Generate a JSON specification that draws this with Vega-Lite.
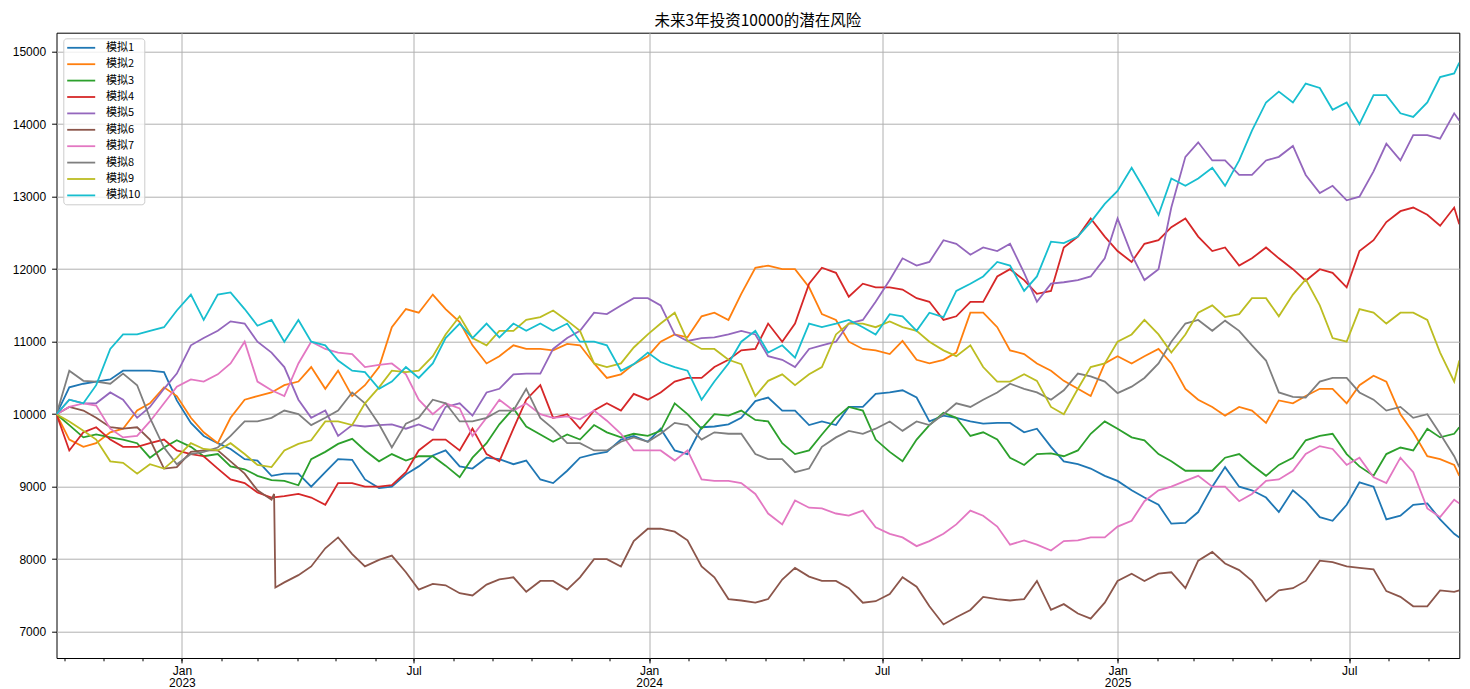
{
  "$schema": "https://vega.github.io/schema/vega-lite/v6.json",
  "width": 1402.8,
  "height": 625.3,
  "autosize": {"type": "none"},
  "padding": {"left": 56.5, "top": 32.7, "right": 10.7, "bottom": 31},
  "background": "#ffffff",
  "title": {"text": "未来3年投资10000的潜在风险", "font": "Noto Sans CJK SC", "fontSize": 15.5, "fontWeight": "normal", "color": "#000000", "offset": 3, "anchor": "middle"},
  "config": {
    "view": {"stroke": "#000000", "strokeWidth": 1},
    "axis": {"domain": false}
  },
  "data": {"values": [
    {"date": "2022/09/25", "s1": 10000, "s2": 10000, "s3": 10000, "s4": 10000, "s5": 10000, "s6": 10000, "s7": 10000, "s8": 10000, "s9": 10000, "s10": 10000},
    {"date": "2022/10/05", "s1": 10370, "s2": 9650, "s3": 9850, "s4": 9500, "s5": 10200, "s6": 10100, "s7": 10100, "s8": 10600, "s9": 9900, "s10": 10200},
    {"date": "2022/10/16", "s1": 10420, "s2": 9550, "s3": 9680, "s4": 9750, "s5": 10150, "s6": 10050, "s7": 10150, "s8": 10460, "s9": 9770, "s10": 10150},
    {"date": "2022/10/26", "s1": 10450, "s2": 9600, "s3": 9720, "s4": 9820, "s5": 10150, "s6": 9950, "s7": 10120, "s8": 10450, "s9": 9650, "s10": 10400},
    {"date": "2022/11/06", "s1": 10480, "s2": 9750, "s3": 9680, "s4": 9650, "s5": 10300, "s6": 9820, "s7": 9800, "s8": 10420, "s9": 9350, "s10": 10900},
    {"date": "2022/11/16", "s1": 10600, "s2": 9800, "s3": 9650, "s4": 9550, "s5": 10200, "s6": 9800, "s7": 9680, "s8": 10560, "s9": 9330, "s10": 11100},
    {"date": "2022/11/27", "s1": 10600, "s2": 10050, "s3": 9600, "s4": 9550, "s5": 9950, "s6": 9820, "s7": 9700, "s8": 10400, "s9": 9180, "s10": 11100},
    {"date": "2022/12/07", "s1": 10600, "s2": 10150, "s3": 9400, "s4": 9600, "s5": 10100, "s6": 9650, "s7": 9900, "s8": 9950, "s9": 9310, "s10": 11150},
    {"date": "2022/12/18", "s1": 10580, "s2": 10370, "s3": 9540, "s4": 9650, "s5": 10350, "s6": 9250, "s7": 10150, "s8": 9540, "s9": 9250, "s10": 11200},
    {"date": "2022/12/28", "s1": 10190, "s2": 10250, "s3": 9640, "s4": 9500, "s5": 10560, "s6": 9270, "s7": 10380, "s8": 9310, "s9": 9400, "s10": 11430},
    {"date": "2023/01/08", "s1": 9880, "s2": 9950, "s3": 9550, "s4": 9450, "s5": 10950, "s6": 9480, "s7": 10480, "s8": 9450, "s9": 9600, "s10": 11650},
    {"date": "2023/01/18", "s1": 9700, "s2": 9750, "s3": 9420, "s4": 9420, "s5": 11050, "s6": 9500, "s7": 10450, "s8": 9480, "s9": 9520, "s10": 11300},
    {"date": "2023/01/29", "s1": 9600, "s2": 9600, "s3": 9450, "s4": 9250, "s5": 11150, "s6": 9500, "s7": 10550, "s8": 9540, "s9": 9500, "s10": 11650},
    {"date": "2023/02/08", "s1": 9520, "s2": 9950, "s3": 9280, "s4": 9100, "s5": 11280, "s6": 9350, "s7": 10700, "s8": 9700, "s9": 9600, "s10": 11680},
    {"date": "2023/02/19", "s1": 9380, "s2": 10200, "s3": 9240, "s4": 9050, "s5": 11250, "s6": 9180, "s7": 11000, "s8": 9900, "s9": 9450, "s10": 11450},
    {"date": "2023/03/01", "s1": 9360, "s2": 10250, "s3": 9150, "s4": 8920, "s5": 11000, "s6": 8950, "s7": 10450, "s8": 9900, "s9": 9300, "s10": 11220},
    {"date": "2023/03/12", "s1": 9150, "s2": 10300, "s3": 9090, "s4": 8850, "s5": 10850, "s6": 8820, "s7": 10330, "s8": 9950, "s9": 9270, "s10": 11300},
    {"date": "2023/03/14", "s6": 8900},
    {"date": "2023/03/15", "s6": 7610},
    {"date": "2023/03/22", "s1": 9180, "s2": 10400, "s3": 9080, "s4": 8870, "s5": 10650, "s6": 7680, "s7": 10250, "s8": 10050, "s9": 9500, "s10": 11000},
    {"date": "2023/04/02", "s1": 9180, "s2": 10450, "s3": 9020, "s4": 8900, "s5": 10200, "s6": 7780, "s7": 10700, "s8": 10000, "s9": 9590, "s10": 11300},
    {"date": "2023/04/12", "s1": 9000, "s2": 10650, "s3": 9380, "s4": 8850, "s5": 9950, "s6": 7900, "s7": 11000, "s8": 9850, "s9": 9640, "s10": 11000},
    {"date": "2023/04/23", "s1": 9200, "s2": 10350, "s3": 9480, "s4": 8750, "s5": 10050, "s6": 8150, "s7": 10900, "s8": 9950, "s9": 9900, "s10": 10950},
    {"date": "2023/05/03", "s1": 9380, "s2": 10600, "s3": 9590, "s4": 9050, "s5": 9700, "s6": 8300, "s7": 10850, "s8": 10050, "s9": 9900, "s10": 10740},
    {"date": "2023/05/14", "s1": 9370, "s2": 10250, "s3": 9660, "s4": 9050, "s5": 9850, "s6": 8070, "s7": 10830, "s8": 10300, "s9": 9850, "s10": 10600},
    {"date": "2023/05/24", "s1": 9100, "s2": 10400, "s3": 9500, "s4": 9000, "s5": 9830, "s6": 7900, "s7": 10650, "s8": 10150, "s9": 10150, "s10": 10580},
    {"date": "2023/06/04", "s1": 8980, "s2": 10650, "s3": 9350, "s4": 9000, "s5": 9850, "s6": 7990, "s7": 10680, "s8": 9860, "s9": 10370, "s10": 10350},
    {"date": "2023/06/14", "s1": 9000, "s2": 11200, "s3": 9450, "s4": 9020, "s5": 9860, "s6": 8050, "s7": 10700, "s8": 9540, "s9": 10600, "s10": 10450},
    {"date": "2023/06/25", "s1": 9170, "s2": 11450, "s3": 9360, "s4": 9200, "s5": 9800, "s6": 7820, "s7": 10550, "s8": 9870, "s9": 10580, "s10": 10650},
    {"date": "2023/07/05", "s1": 9280, "s2": 11400, "s3": 9420, "s4": 9500, "s5": 9860, "s6": 7580, "s7": 10200, "s8": 9950, "s9": 10600, "s10": 10500},
    {"date": "2023/07/16", "s1": 9430, "s2": 11650, "s3": 9420, "s4": 9650, "s5": 9780, "s6": 7660, "s7": 10000, "s8": 10200, "s9": 10800, "s10": 10700},
    {"date": "2023/07/26", "s1": 9500, "s2": 11450, "s3": 9290, "s4": 9650, "s5": 10100, "s6": 7640, "s7": 10150, "s8": 10150, "s9": 11100, "s10": 11050},
    {"date": "2023/08/06", "s1": 9280, "s2": 11270, "s3": 9130, "s4": 9500, "s5": 10150, "s6": 7530, "s7": 10080, "s8": 9900, "s9": 11350, "s10": 11250},
    {"date": "2023/08/16", "s1": 9250, "s2": 10950, "s3": 9400, "s4": 9800, "s5": 9980, "s6": 7500, "s7": 9700, "s8": 9900, "s9": 11050, "s10": 11050},
    {"date": "2023/08/27", "s1": 9400, "s2": 10700, "s3": 9600, "s4": 9450, "s5": 10300, "s6": 7650, "s7": 9950, "s8": 9950, "s9": 10950, "s10": 11250},
    {"date": "2023/09/06", "s1": 9380, "s2": 10800, "s3": 9860, "s4": 9350, "s5": 10350, "s6": 7720, "s7": 10200, "s8": 10050, "s9": 11150, "s10": 11060},
    {"date": "2023/09/17", "s1": 9310, "s2": 10950, "s3": 10080, "s4": 9800, "s5": 10550, "s6": 7750, "s7": 10050, "s8": 10050, "s9": 11150, "s10": 11250},
    {"date": "2023/09/27", "s1": 9360, "s2": 10900, "s3": 9830, "s4": 10200, "s5": 10560, "s6": 7550, "s7": 10150, "s8": 10350, "s9": 11300, "s10": 11150},
    {"date": "2023/10/08", "s1": 9100, "s2": 10900, "s3": 9720, "s4": 10400, "s5": 10560, "s6": 7700, "s7": 10000, "s8": 9950, "s9": 11340, "s10": 11250},
    {"date": "2023/10/18", "s1": 9050, "s2": 10880, "s3": 9620, "s4": 9950, "s5": 10900, "s6": 7700, "s7": 9950, "s8": 9800, "s9": 11430, "s10": 11150},
    {"date": "2023/10/29", "s1": 9220, "s2": 10970, "s3": 9720, "s4": 10000, "s5": 11050, "s6": 7580, "s7": 9970, "s8": 9600, "s9": 11290, "s10": 11250},
    {"date": "2023/11/08", "s1": 9400, "s2": 10950, "s3": 9650, "s4": 9800, "s5": 11150, "s6": 7750, "s7": 9930, "s8": 9600, "s9": 11150, "s10": 11000},
    {"date": "2023/11/19", "s1": 9450, "s2": 10700, "s3": 9850, "s4": 10050, "s5": 11400, "s6": 8000, "s7": 10050, "s8": 9500, "s9": 10700, "s10": 11000},
    {"date": "2023/11/29", "s1": 9480, "s2": 10500, "s3": 9750, "s4": 10150, "s5": 11380, "s6": 8000, "s7": 9910, "s8": 9500, "s9": 10650, "s10": 10950},
    {"date": "2023/12/10", "s1": 9650, "s2": 10550, "s3": 9680, "s4": 10050, "s5": 11500, "s6": 7900, "s7": 9730, "s8": 9620, "s9": 10700, "s10": 10600},
    {"date": "2023/12/20", "s1": 9700, "s2": 10690, "s3": 9730, "s4": 10280, "s5": 11600, "s6": 8250, "s7": 9500, "s8": 9680, "s9": 10920, "s10": 10690},
    {"date": "2023/12/31", "s1": 9620, "s2": 10800, "s3": 9700, "s4": 10200, "s5": 11600, "s6": 8420, "s7": 9500, "s8": 9620, "s9": 11100, "s10": 10850},
    {"date": "2024/01/10", "s1": 9800, "s2": 11000, "s3": 9770, "s4": 10300, "s5": 11500, "s6": 8420, "s7": 9500, "s8": 9730, "s9": 11250, "s10": 10720},
    {"date": "2024/01/21", "s1": 9500, "s2": 11100, "s3": 10150, "s4": 10450, "s5": 11100, "s6": 8380, "s7": 9360, "s8": 9880, "s9": 11400, "s10": 10650},
    {"date": "2024/01/31", "s1": 9450, "s2": 11060, "s3": 10000, "s4": 10500, "s5": 11010, "s6": 8260, "s7": 9500, "s8": 9850, "s9": 11010, "s10": 10600},
    {"date": "2024/02/11", "s1": 9820, "s2": 11350, "s3": 9800, "s4": 10500, "s5": 11050, "s6": 7900, "s7": 9100, "s8": 9650, "s9": 10900, "s10": 10200},
    {"date": "2024/02/21", "s1": 9830, "s2": 11400, "s3": 10000, "s4": 10650, "s5": 11060, "s6": 7750, "s7": 9080, "s8": 9750, "s9": 10900, "s10": 10450},
    {"date": "2024/03/03", "s1": 9860, "s2": 11300, "s3": 9980, "s4": 10750, "s5": 11100, "s6": 7450, "s7": 9080, "s8": 9730, "s9": 10750, "s10": 10700},
    {"date": "2024/03/13", "s1": 9950, "s2": 11660, "s3": 10050, "s4": 10880, "s5": 11150, "s6": 7430, "s7": 9050, "s8": 9730, "s9": 10690, "s10": 11000},
    {"date": "2024/03/24", "s1": 10180, "s2": 12020, "s3": 9920, "s4": 10900, "s5": 11100, "s6": 7400, "s7": 8900, "s8": 9450, "s9": 10250, "s10": 11150},
    {"date": "2024/04/03", "s1": 10230, "s2": 12050, "s3": 9900, "s4": 11250, "s5": 10800, "s6": 7450, "s7": 8630, "s8": 9380, "s9": 10460, "s10": 10850},
    {"date": "2024/04/14", "s1": 10050, "s2": 12000, "s3": 9600, "s4": 11000, "s5": 10750, "s6": 7720, "s7": 8480, "s8": 9380, "s9": 10550, "s10": 10950},
    {"date": "2024/04/24", "s1": 10050, "s2": 12000, "s3": 9450, "s4": 11250, "s5": 10650, "s6": 7880, "s7": 8810, "s8": 9200, "s9": 10400, "s10": 10780},
    {"date": "2024/05/05", "s1": 9850, "s2": 11750, "s3": 9500, "s4": 11800, "s5": 10900, "s6": 7760, "s7": 8710, "s8": 9250, "s9": 10550, "s10": 11250},
    {"date": "2024/05/15", "s1": 9900, "s2": 11380, "s3": 9720, "s4": 12020, "s5": 10950, "s6": 7700, "s7": 8700, "s8": 9550, "s9": 10650, "s10": 11200},
    {"date": "2024/05/26", "s1": 9850, "s2": 11300, "s3": 9950, "s4": 11950, "s5": 11000, "s6": 7700, "s7": 8630, "s8": 9680, "s9": 11100, "s10": 11250},
    {"date": "2024/06/05", "s1": 10100, "s2": 11000, "s3": 10100, "s4": 11620, "s5": 11250, "s6": 7600, "s7": 8600, "s8": 9770, "s9": 11250, "s10": 11300},
    {"date": "2024/06/16", "s1": 10100, "s2": 10900, "s3": 10050, "s4": 11800, "s5": 11300, "s6": 7400, "s7": 8670, "s8": 9730, "s9": 11250, "s10": 11200},
    {"date": "2024/06/26", "s1": 10280, "s2": 10880, "s3": 9650, "s4": 11750, "s5": 11550, "s6": 7420, "s7": 8440, "s8": 9800, "s9": 11200, "s10": 11100},
    {"date": "2024/07/07", "s1": 10300, "s2": 10830, "s3": 9480, "s4": 11750, "s5": 11850, "s6": 7520, "s7": 8350, "s8": 9900, "s9": 11280, "s10": 11380},
    {"date": "2024/07/17", "s1": 10330, "s2": 11010, "s3": 9350, "s4": 11720, "s5": 12150, "s6": 7750, "s7": 8300, "s8": 9770, "s9": 11200, "s10": 11350},
    {"date": "2024/07/28", "s1": 10230, "s2": 10750, "s3": 9650, "s4": 11600, "s5": 12050, "s6": 7620, "s7": 8180, "s8": 9900, "s9": 11150, "s10": 11150},
    {"date": "2024/08/07", "s1": 9900, "s2": 10700, "s3": 9850, "s4": 11550, "s5": 12100, "s6": 7350, "s7": 8250, "s8": 9850, "s9": 11000, "s10": 11400},
    {"date": "2024/08/18", "s1": 9980, "s2": 10750, "s3": 10020, "s4": 11300, "s5": 12400, "s6": 7100, "s7": 8350, "s8": 10000, "s9": 10880, "s10": 11340},
    {"date": "2024/08/28", "s1": 9950, "s2": 10850, "s3": 9950, "s4": 11350, "s5": 12350, "s6": 7200, "s7": 8480, "s8": 10150, "s9": 10800, "s10": 11700},
    {"date": "2024/09/08", "s1": 9900, "s2": 11400, "s3": 9700, "s4": 11550, "s5": 12200, "s6": 7300, "s7": 8670, "s8": 10100, "s9": 10950, "s10": 11800},
    {"date": "2024/09/18", "s1": 9870, "s2": 11400, "s3": 9750, "s4": 11550, "s5": 12300, "s6": 7480, "s7": 8600, "s8": 10200, "s9": 10650, "s10": 11900},
    {"date": "2024/09/29", "s1": 9880, "s2": 11200, "s3": 9650, "s4": 11900, "s5": 12250, "s6": 7450, "s7": 8450, "s8": 10300, "s9": 10450, "s10": 12100},
    {"date": "2024/10/09", "s1": 9880, "s2": 10880, "s3": 9400, "s4": 12000, "s5": 12350, "s6": 7430, "s7": 8200, "s8": 10420, "s9": 10450, "s10": 12050},
    {"date": "2024/10/20", "s1": 9750, "s2": 10830, "s3": 9300, "s4": 11850, "s5": 11950, "s6": 7450, "s7": 8260, "s8": 10350, "s9": 10550, "s10": 11700},
    {"date": "2024/10/30", "s1": 9800, "s2": 10700, "s3": 9450, "s4": 11660, "s5": 11550, "s6": 7700, "s7": 8200, "s8": 10300, "s9": 10460, "s10": 11900},
    {"date": "2024/11/10", "s1": 9550, "s2": 10600, "s3": 9460, "s4": 11700, "s5": 11800, "s6": 7300, "s7": 8120, "s8": 10200, "s9": 10100, "s10": 12380},
    {"date": "2024/11/20", "s1": 9350, "s2": 10460, "s3": 9420, "s4": 12300, "s5": 11820, "s6": 7380, "s7": 8250, "s8": 10330, "s9": 10000, "s10": 12360},
    {"date": "2024/12/01", "s1": 9310, "s2": 10350, "s3": 9500, "s4": 12450, "s5": 11850, "s6": 7250, "s7": 8260, "s8": 10560, "s9": 10350, "s10": 12450},
    {"date": "2024/12/11", "s1": 9250, "s2": 10250, "s3": 9730, "s4": 12700, "s5": 11900, "s6": 7180, "s7": 8300, "s8": 10520, "s9": 10650, "s10": 12650},
    {"date": "2024/12/22", "s1": 9150, "s2": 10700, "s3": 9900, "s4": 12450, "s5": 12150, "s6": 7400, "s7": 8300, "s8": 10450, "s9": 10700, "s10": 12900},
    {"date": "2025/01/01", "s1": 9080, "s2": 10800, "s3": 9800, "s4": 12250, "s5": 12700, "s6": 7700, "s7": 8450, "s8": 10290, "s9": 11000, "s10": 13080},
    {"date": "2025/01/12", "s1": 8950, "s2": 10700, "s3": 9680, "s4": 12100, "s5": 12200, "s6": 7800, "s7": 8530, "s8": 10380, "s9": 11100, "s10": 13400},
    {"date": "2025/01/22", "s1": 8850, "s2": 10800, "s3": 9640, "s4": 12350, "s5": 11850, "s6": 7700, "s7": 8800, "s8": 10500, "s9": 11300, "s10": 13100},
    {"date": "2025/02/02", "s1": 8750, "s2": 10900, "s3": 9450, "s4": 12400, "s5": 12000, "s6": 7800, "s7": 8950, "s8": 10700, "s9": 11100, "s10": 12750},
    {"date": "2025/02/12", "s1": 8490, "s2": 10700, "s3": 9350, "s4": 12580, "s5": 12850, "s6": 7820, "s7": 9000, "s8": 11000, "s9": 10850, "s10": 13250},
    {"date": "2025/02/23", "s1": 8500, "s2": 10350, "s3": 9220, "s4": 12700, "s5": 13550, "s6": 7600, "s7": 9080, "s8": 11250, "s9": 11100, "s10": 13150},
    {"date": "2025/03/05", "s1": 8650, "s2": 10200, "s3": 9220, "s4": 12450, "s5": 13750, "s6": 7980, "s7": 9150, "s8": 11300, "s9": 11400, "s10": 13250},
    {"date": "2025/03/16", "s1": 9000, "s2": 10100, "s3": 9220, "s4": 12250, "s5": 13500, "s6": 8100, "s7": 9000, "s8": 11150, "s9": 11500, "s10": 13400},
    {"date": "2025/03/26", "s1": 9270, "s2": 9980, "s3": 9400, "s4": 12300, "s5": 13500, "s6": 7940, "s7": 9000, "s8": 11290, "s9": 11340, "s10": 13150},
    {"date": "2025/04/06", "s1": 9000, "s2": 10100, "s3": 9450, "s4": 12050, "s5": 13300, "s6": 7850, "s7": 8800, "s8": 11150, "s9": 11380, "s10": 13500},
    {"date": "2025/04/16", "s1": 8950, "s2": 10050, "s3": 9300, "s4": 12150, "s5": 13300, "s6": 7700, "s7": 8900, "s8": 10950, "s9": 11600, "s10": 13910},
    {"date": "2025/04/27", "s1": 8850, "s2": 9880, "s3": 9150, "s4": 12300, "s5": 13500, "s6": 7420, "s7": 9080, "s8": 10740, "s9": 11600, "s10": 14300},
    {"date": "2025/05/07", "s1": 8650, "s2": 10190, "s3": 9300, "s4": 12150, "s5": 13550, "s6": 7570, "s7": 9100, "s8": 10300, "s9": 11350, "s10": 14450},
    {"date": "2025/05/18", "s1": 8950, "s2": 10150, "s3": 9400, "s4": 12000, "s5": 13700, "s6": 7600, "s7": 9220, "s8": 10240, "s9": 11650, "s10": 14300},
    {"date": "2025/05/28", "s1": 8800, "s2": 10250, "s3": 9640, "s4": 11840, "s5": 13300, "s6": 7700, "s7": 9450, "s8": 10230, "s9": 11860, "s10": 14560},
    {"date": "2025/06/08", "s1": 8580, "s2": 10350, "s3": 9700, "s4": 12000, "s5": 13050, "s6": 7980, "s7": 9560, "s8": 10450, "s9": 11500, "s10": 14500},
    {"date": "2025/06/18", "s1": 8530, "s2": 10350, "s3": 9730, "s4": 11950, "s5": 13150, "s6": 7960, "s7": 9520, "s8": 10500, "s9": 11050, "s10": 14200},
    {"date": "2025/06/29", "s1": 8750, "s2": 10150, "s3": 9450, "s4": 11750, "s5": 12950, "s6": 7900, "s7": 9300, "s8": 10500, "s9": 11000, "s10": 14300},
    {"date": "2025/07/09", "s1": 9060, "s2": 10400, "s3": 9280, "s4": 12250, "s5": 13000, "s6": 7880, "s7": 9400, "s8": 10300, "s9": 11450, "s10": 14000},
    {"date": "2025/07/20", "s1": 9000, "s2": 10530, "s3": 9150, "s4": 12400, "s5": 13350, "s6": 7860, "s7": 9130, "s8": 10200, "s9": 11400, "s10": 14400},
    {"date": "2025/07/30", "s1": 8550, "s2": 10450, "s3": 9450, "s4": 12650, "s5": 13730, "s6": 7560, "s7": 9050, "s8": 10050, "s9": 11250, "s10": 14400},
    {"date": "2025/08/10", "s1": 8600, "s2": 10000, "s3": 9540, "s4": 12800, "s5": 13500, "s6": 7480, "s7": 9400, "s8": 10100, "s9": 11400, "s10": 14150},
    {"date": "2025/08/20", "s1": 8750, "s2": 9750, "s3": 9500, "s4": 12850, "s5": 13850, "s6": 7350, "s7": 9200, "s8": 9950, "s9": 11400, "s10": 14100},
    {"date": "2025/08/31", "s1": 8770, "s2": 9420, "s3": 9800, "s4": 12750, "s5": 13850, "s6": 7350, "s7": 8700, "s8": 10000, "s9": 11300, "s10": 14300},
    {"date": "2025/09/10", "s1": 8550, "s2": 9380, "s3": 9680, "s4": 12600, "s5": 13800, "s6": 7570, "s7": 8580, "s8": 9730, "s9": 10850, "s10": 14650},
    {"date": "2025/09/21", "s1": 8350, "s2": 9300, "s3": 9730, "s4": 12850, "s5": 14150, "s6": 7550, "s7": 8820, "s8": 9420, "s9": 10450, "s10": 14700},
    {"date": "2025/09/25", "s1": 8300, "s2": 9150, "s3": 9820, "s4": 12620, "s5": 14050, "s6": 7570, "s7": 8770, "s8": 9270, "s9": 10740, "s10": 14850}
  ]},
  "transform": [
    {"fold": ["s1", "s2", "s3", "s4", "s5", "s6", "s7", "s8", "s9", "s10"], "as": ["series", "value"]},
    {"filter": "isValid(datum.value)"}
  ],
  "resolve": {"axis": {"x": "independent", "y": "independent"}},
  "layer": [
    {
      "mark": {"type": "line", "strokeWidth": 1.8, "clip": true},
      "encoding": {
        "x": {"field": "date", "type": "temporal",
          "scale": {"domain": [{"year": 2022, "month": 9, "date": 25}, {"year": 2025, "month": 9, "date": 25}], "nice": false},
          "axis": {"title": null, "orient": "bottom",
            "values": [{"year": 2023, "month": 1, "date": 1}, {"year": 2023, "month": 7, "date": 1}, {"year": 2024, "month": 1, "date": 1}, {"year": 2024, "month": 7, "date": 1}, {"year": 2025, "month": 1, "date": 1}, {"year": 2025, "month": 7, "date": 1}],
            "labelExpr": "month(datum.value) == 0 ? ['Jan', timeFormat(datum.value, '%Y')] : 'Jul'",
            "labelFont": "Liberation Sans", "labelFontSize": 12, "labelColor": "#000000", "labelLineHeight": 12.5,
            "labelPadding": 2.5, "labelOverlap": false, "labelFlush": false, "labelBound": false,
            "tickSize": 4.9, "tickColor": "#000000", "tickWidth": 1,
            "grid": true, "gridColor": "#b0b0b0", "gridWidth": 1}},
        "y": {"field": "value", "type": "quantitative",
          "scale": {"domain": [6637, 15262], "nice": false, "zero": false},
          "axis": {"title": null, "orient": "left", "values": [7000, 8000, 9000, 10000, 11000, 12000, 13000, 14000, 15000], "format": "d",
            "labelFont": "Liberation Sans", "labelFontSize": 12, "labelColor": "#000000", "labelPadding": 6,
            "tickSize": 4.9, "tickColor": "#000000", "tickWidth": 1,
            "grid": true, "gridColor": "#b0b0b0", "gridWidth": 1}},
        "color": {"field": "series", "type": "nominal",
          "scale": {"domain": ["s1", "s2", "s3", "s4", "s5", "s6", "s7", "s8", "s9", "s10"],
            "range": ["#1f77b4", "#ff7f0e", "#2ca02c", "#d62728", "#9467bd", "#8c564b", "#e377c2", "#7f7f7f", "#bcbd22", "#17becf"]},
          "legend": {"title": null, "orient": "none", "legendX": 6.8, "legendY": 5.6,
            "labelExpr": "'模拟' + slice(datum.label, 1)",
            "symbolType": "M-3,0H3", "symbolSize": 87.1, "symbolStrokeWidth": 1.8, "symbolOffset": 8.4,
            "labelFont": "Noto Sans CJK SC", "labelFontSize": 11, "labelColor": "#000000", "labelOffset": 18.9,
            "rowPadding": 5.4, "padding": 3.5,
            "fillColor": "rgba(255,255,255,0.8)", "strokeColor": "#cccccc", "cornerRadius": 3}}
      }
    },
    {
      "mark": {"type": "line", "opacity": 0},
      "encoding": {
        "x": {"field": "date", "type": "temporal",
          "axis": {"title": null, "orient": "bottom", "tickCount": {"interval": "month", "step": 1}, "labels": false, "grid": false,
            "tickSize": 2.8, "tickColor": "#000000", "tickWidth": 1}},
        "y": {"field": "value", "type": "quantitative", "axis": null},
        "detail": {"field": "series"}
      }
    }
  ]
}
